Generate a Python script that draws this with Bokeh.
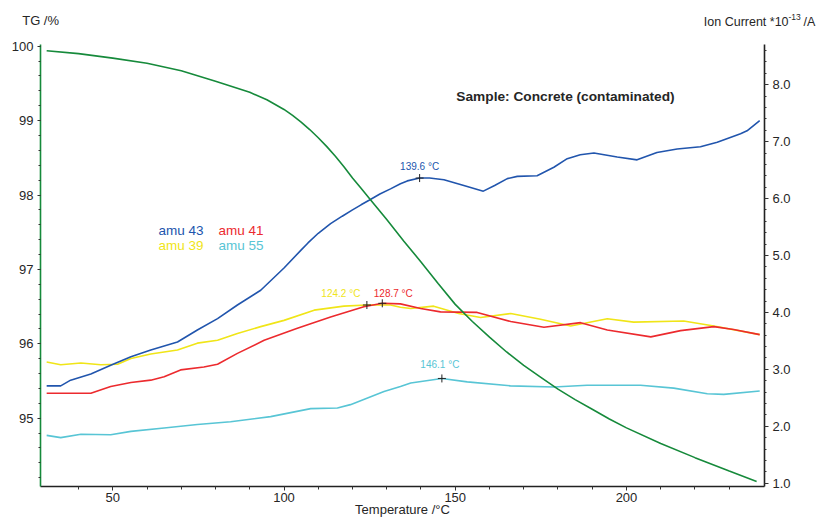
import numpy as np
from bokeh.plotting import figure
from bokeh.layouts import column
from bokeh.models import Range1d, LinearAxis, FixedTicker, Label, PrintfTickFormatter
from bokeh.core.properties import value
from bokeh.embed import file_html
from bokeh.resources import INLINE

FONT = "Liberation Sans"
TXT = "#262626"

# ---------------- data ----------------
tg_temp = [30.7, 40, 50, 60, 70, 80, 90, 95, 100, 102.5, 105, 107.5, 110, 112.5, 115, 117.5,
           120, 122.5, 125, 130, 135, 140, 145, 150, 155, 160, 165, 170, 175, 180, 185, 190,
           195, 200, 210, 220, 230, 238]
tg_pct = [99.94, 99.90, 99.84, 99.77, 99.67, 99.53, 99.38, 99.28, 99.15, 99.07, 98.98, 98.88,
          98.77, 98.65, 98.52, 98.38, 98.23, 98.09, 97.95, 97.67, 97.38, 97.10, 96.81, 96.53,
          96.30, 96.09, 95.89, 95.71, 95.55, 95.39, 95.25, 95.12, 94.99, 94.87, 94.66, 94.47,
          94.29, 94.15]

amu43_temp = [30.7, 34.8, 37.7, 43.6, 49.4, 55.3, 61.1, 68.9, 74.7, 80.6, 86.4, 93.2, 100.0,
              104.9, 107.0, 110.0, 113.6, 117.0, 120.0, 122.5, 125.1, 128.0, 131.1, 134.0,
              136.0, 139.6, 142.5, 146.7, 152.5, 158.2, 161.5, 165.2, 168.1, 173.9, 178.8,
              182.7, 186.5, 190.5, 197.3, 203.1, 208.9, 214.8, 221.6, 226.5, 233.3, 235.2,
              238.9]
amu43_ic = [2.71, 2.71, 2.81, 2.92, 3.07, 3.22, 3.34, 3.48, 3.69, 3.89, 4.13, 4.39, 4.78,
            5.09, 5.22, 5.39, 5.56, 5.69, 5.80, 5.89, 5.98, 6.08, 6.17, 6.26,
            6.31, 6.36, 6.36, 6.33, 6.23, 6.13, 6.23, 6.35, 6.39, 6.40, 6.55,
            6.70, 6.77, 6.80, 6.73, 6.68, 6.81, 6.87, 6.91, 6.99, 7.14, 7.19,
            7.37]

amu41_temp = [30.7, 43.6, 49.4, 55.3, 61.1, 65.0, 69.8, 76.6, 80.6, 86.4, 94.2, 103.9, 113.6,
              123.3, 128.7, 134.0, 139.9, 145.7, 156.4, 166.2, 175.9, 186.6, 194.4, 207.1,
              215.8, 225.5, 231.3, 238.9]
amu41_ic = [2.58, 2.58, 2.70, 2.77, 2.81, 2.87, 2.99, 3.04, 3.09, 3.28, 3.51, 3.72, 3.92,
            4.10, 4.16, 4.15, 4.07, 4.01, 4.00, 3.84, 3.74, 3.82, 3.69, 3.57,
            3.68, 3.75, 3.70, 3.61]

amu39_temp = [30.7, 34.8, 40.7, 46.5, 51.4, 55.3, 61.1, 68.9, 74.7, 80.6, 86.4, 93.2, 100.0,
              108.8, 117.5, 124.2, 131.1, 134.0, 137.0, 143.7, 151.0, 157.4, 166.2, 174.9,
              183.7, 194.4, 202.1, 216.7, 225.5, 238.9]
amu39_ic = [3.13, 3.08, 3.11, 3.08, 3.09, 3.19, 3.27, 3.34, 3.46, 3.51, 3.63, 3.75, 3.86,
            4.04, 4.11, 4.13, 4.13, 4.09, 4.07, 4.11, 3.98, 3.91, 3.98, 3.88,
            3.76, 3.89, 3.83, 3.85, 3.76, 3.61]

amu55_temp = [30.7, 34.8, 40.7, 49.4, 55.3, 65.0, 74.7, 84.4, 96.1, 107.8, 115.6, 119.4,
              129.2, 134.0, 137.0, 146.1, 153.5, 166.1, 178.8, 188.5, 204.1, 213.8, 223.6,
              228.4, 238.9]
amu55_ic = [1.84, 1.80, 1.86, 1.85, 1.91, 1.97, 2.03, 2.08, 2.17, 2.31, 2.32, 2.38,
            2.61, 2.70, 2.76, 2.84, 2.78, 2.71, 2.69, 2.72, 2.72, 2.67, 2.57,
            2.56, 2.62]

peak_temps = [139.6, 128.7, 124.2, 146.1]
peak_labels = ["139.6 °C", "128.7 °C", "124.2 °C", "146.1 °C"]

x_ticks = [50, 100, 150, 200]
tg_ticks = [95, 96, 97, 98, 99, 100]
ic_ticks = [1, 2, 3, 4, 5, 6, 7, 8]

C_TG = "#168a3b"
C43 = "#2155ad"
C41 = "#ec2a2e"
C39 = "#f0e518"
C55 = "#58c5d5"

# ---------------- header strip (axis titles above the plot) ----------------
hdr = figure(width=827, height=38, output_backend="svg", toolbar_location=None,
             x_range=Range1d(0, 827), y_range=Range1d(38, 0),
             x_axis_type=None, y_axis_type=None, min_border=0)
hdr.outline_line_color = None
hdr.grid.visible = False


def htext(x, y, t, size="13px"):
    hdr.text(x=[x], y=[y], text=[t], text_font=value(FONT), text_font_size=size,
             text_color=TXT, text_align="left", text_baseline="middle")


htext(21.7, 20, "TG /%")
htext(703.3, 21, "Ion Current *10", "12.5px")
htext(788.0, 16.5, "-13", "8.5px")
htext(803.0, 21, "/A", "12.5px")

# ---------------- main figure ----------------
p = figure(width=827, height=481, output_backend="svg", toolbar_location=None,
           x_range=Range1d(28.9, 240.3), y_range=Range1d(94.082, 100.023),
           min_border_left=40, min_border_right=63, min_border_top=6,
           min_border_bottom=33)
for fig in (hdr, p):
    try:
        fig.frame_align = False
    except Exception:
        pass
p.extra_y_ranges = {"ic": Range1d(0.942, 8.706)}
p.outline_line_color = None
p.xgrid.visible = False
p.ygrid.visible = False
p.background_fill_color = "white"
p.border_fill_color = "white"


def style_axis(ax, line_color, label_standoff, tick_out, minor_out):
    ax.axis_line_color = line_color
    ax.axis_line_width = 1.6
    ax.major_tick_line_color = "#333333"
    ax.minor_tick_line_color = "#333333"
    ax.major_tick_in = 0
    ax.minor_tick_in = 0
    ax.major_tick_out = tick_out
    ax.minor_tick_out = minor_out
    ax.major_label_text_font = FONT
    ax.major_label_text_font_size = "13px"
    ax.major_label_text_color = TXT
    ax.major_label_standoff = label_standoff


xa = p.xaxis[0]
xa.ticker = FixedTicker(ticks=x_ticks, minor_ticks=list(range(40, 240, 10)))
style_axis(xa, "#222222", 2, 4, 3)
xa.axis_label = "Temperature /°C"
xa.axis_label_text_font = FONT
xa.axis_label_text_font_size = "13px"
xa.axis_label_text_font_style = "normal"
xa.axis_label_text_color = TXT
xa.axis_label_standoff = -3

ya = p.yaxis[0]
ya.ticker = FixedTicker(ticks=tg_ticks,
                        minor_ticks=[round(94.2 + 0.2 * i, 1) for i in range(30)])
style_axis(ya, C_TG, 4, 3, 2)

ra = LinearAxis(y_range_name="ic")
ra.ticker = FixedTicker(ticks=ic_ticks,
                        minor_ticks=[round(1.0 + 0.2 * i, 1) for i in range(39)])
ra.formatter = PrintfTickFormatter(format="%.1f")
style_axis(ra, "#222222", 4, 4, 2)
p.add_layout(ra, "right")

# ---------------- curves ----------------
lw = 1.6
p.line(amu55_temp, amu55_ic, y_range_name="ic", color=C55, line_width=lw)
p.line(amu39_temp, amu39_ic, y_range_name="ic", color=C39, line_width=lw)
p.line(amu43_temp, amu43_ic, y_range_name="ic", color=C43, line_width=lw)
p.line(amu41_temp, amu41_ic, y_range_name="ic", color=C41, line_width=lw)
p.line(tg_temp, tg_pct, color=C_TG, line_width=lw)

# peak markers
series = [(amu43_temp, amu43_ic, C43), (amu41_temp, amu41_ic, C41),
          (amu39_temp, amu39_ic, C39), (amu55_temp, amu55_ic, C55)]
peak_vals = [float(np.interp(t, s[0], s[1])) for t, s in zip(peak_temps, series)]
p.scatter(peak_temps, peak_vals, y_range_name="ic", marker="cross", size=8,
          line_color="#222222", line_width=1)

offsets = [(0, 12), (11, 10), (-26, 12), (-2, 14)]
for t, v, lab, s, (dx, dy) in zip(peak_temps, peak_vals, peak_labels, series, offsets):
    p.add_layout(Label(x=t, y=v, y_range_name="ic", text=lab, x_offset=dx, y_offset=dy,
                       text_font=FONT, text_font_size="10px", text_color=s[2],
                       text_align="center", text_baseline="middle"))


def slabel(text, x, y, size="13px", color=TXT, align="left", style="normal"):
    p.add_layout(Label(x=x, y=y, x_units="screen", y_units="screen", text=text,
                       text_font=FONT, text_font_size=size, text_color=color,
                       text_align=align, text_baseline="middle", text_font_style=style))


# legend texts
slabel("amu 43", 118, 256, "13.5px", C43)
slabel("amu 41", 178, 256, "13.5px", C41)
slabel("amu 39", 118, 241, "13.5px", C39)
slabel("amu 55", 178, 241, "13.5px", C55)

# sample title
slabel("Sample: Concrete (contaminated)", 525, 390, "13.7px", TXT, "center", "bold")

layout = column(hdr, p, spacing=0)
open("out.html", "w").write(file_html(layout, INLINE))
